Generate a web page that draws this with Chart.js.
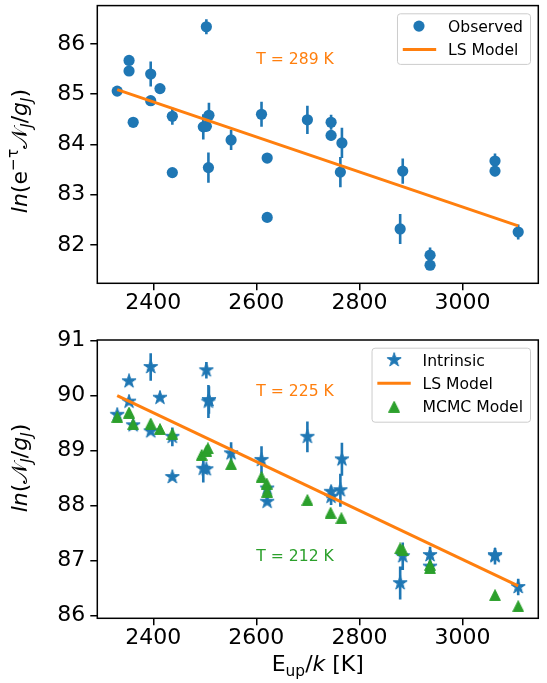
<!DOCTYPE html>
<html><head><meta charset="utf-8">
<script src="https://cdn.jsdelivr.net/npm/chart.js@4"></script>
<style>
html,body{margin:0;padding:0;background:#fff;}
#wrap{position:relative;width:547px;height:683px;overflow:hidden;}
.c{position:absolute;left:0;width:547px;}
</style></head><body>
<div id="wrap">
<div class="c" style="top:0;height:320px"><canvas id="c1" width="547" height="320"></canvas></div>
<div class="c" style="top:320px;height:363px"><canvas id="c2" width="547" height="363"></canvas></div>
</div>
<script>
// ---------- data ----------
const energies  = [2330,2353,2353,2361,2395,2395,2413,2437,2437,2497,2503,2503,2508,2507,2551,2610,2621,2621,2699,2745,2745,2766,2763,2884,2879,2937,2937,3063,3063,3108];
const observed  = [85.06,85.67,85.46,84.44,85.40,84.87,85.11,84.56,83.44,84.35,84.36,86.34,84.58,83.54,84.09,84.60,83.73,82.55,84.49,84.44,84.18,84.03,83.45,83.47,82.32,81.80,81.60,83.67,83.47,82.26];
const intrinsic = [89.65,90.26,89.89,89.46,90.52,89.35,89.96,89.25,88.52,88.67,88.66,90.46,89.92,89.89,88.95,88.83,88.31,88.07,89.25,88.16,88.25,88.84,88.28,87.08,86.59,87.10,86.89,87.08,87.10,86.52];
const errors    = [0.03,0.03,0.05,0.03,0.25,0.05,0.04,0.17,0.04,0.25,0.08,0.15,0.25,0.30,0.20,0.25,0.05,0.04,0.28,0.15,0.10,0.30,0.30,0.25,0.30,0.15,0.05,0.15,0.10,0.15];
const mcmcE     = [2330,2353,2361,2395,2413,2437,2494,2503,2506,2551,2610,2620,2621,2699,2744,2765,2879,2884,2937,2937,3063,3108];
const mcmcVals  = [89.61,89.69,89.48,89.49,89.39,89.30,88.92,88.99,89.04,88.75,88.52,88.40,88.25,88.10,87.87,87.77,87.22,87.19,86.92,86.86,86.37,86.17];
const lsE       = [2330,3108];
const lsTopVals = [85.09,82.38];
const lsBotVals = [90.00,86.54];
const xTicks    = [2400,2600,2800,3000];
const yTicksTop = [82,83,84,85,86];
const yTicksBot = [86,87,88,89,90,91];
const annTop    = [{text:'T = 289 K', x:2600, y:85.6, color:'#ff7f0e'}];
const annBot    = [{text:'T = 225 K', x:2600, y:90.0, color:'#ff7f0e'},{text:'T = 212 K', x:2600, y:87.0, color:'#2ca02c'}];

// ---------- style ----------
const FAM = "'DejaVu Sans', sans-serif";
const BLUE='#1f77b4', ORANGE='#ff7f0e', GREEN='#2ca02c';
const TICK=22, LAB=22, LEG=15.6;

function markerCanvas(kind, color, size){
  const c=document.createElement('canvas'); c.width=size; c.height=size;
  const g=c.getContext('2d'); g.fillStyle=color; g.strokeStyle=color; g.lineWidth=1; g.lineJoin='miter';
  const cx=size/2, cy=size/2; g.beginPath();
  if(kind==='star'){
    const R=size/2-0.6, r=R*0.381966;
    for(let i=0;i<10;i++){const a=-Math.PI/2+i*Math.PI/5, rr=i%2?r:R; const px=cx+rr*Math.cos(a), py=cy+rr*Math.sin(a); i?g.lineTo(px,py):g.moveTo(px,py);}
  } else {
    const h=size/2-0.6; g.moveTo(cx,cy-h); g.lineTo(cx+h,cy+h); g.lineTo(cx-h,cy+h);
  }
  g.closePath(); g.fill(); g.stroke(); return c;
}
const starImg = markerCanvas('star', BLUE, 16);
const triImg  = markerCanvas('tri', GREEN, 12);

function drawRich(ctx, segs, size){
  const parts = segs.map(s=>{
    const sz = (s.sub||s.sup)? size*0.7 : size;
    const font = (s.it?'italic ':'') + sz + 'px ' + FAM;
    ctx.font = font; const w = ctx.measureText(s.t).width;
    const dy = s.sub? size*0.22 : (s.sup? -size*0.42 : 0);
    return {t:s.t, font, w, dy};
  });
  const total = parts.reduce((a,p)=>a+p.w,0);
  let x = -total/2;
  ctx.textAlign='left'; ctx.textBaseline='alphabetic';
  parts.forEach(p=>{ctx.font=p.font; ctx.fillText(p.t, x, p.dy); x+=p.w;});
}

function framePlugin(){
  return {id:'frame', afterDraw(chart){const a=chart.chartArea, ctx=chart.ctx; ctx.save(); ctx.strokeStyle='#000'; ctx.lineWidth=1.5; ctx.strokeRect(a.left, a.top, a.right-a.left, a.bottom-a.top); ctx.restore();}};
}
function errPlugin(xs, ys, es, color){
  return {id:'errbars', beforeDatasetsDraw(chart){
    const ctx=chart.ctx, sx=chart.scales.x, sy=chart.scales.y; ctx.save(); ctx.strokeStyle=color; ctx.lineWidth=2.6; ctx.beginPath();
    xs.forEach((x,i)=>{const px=sx.getPixelForValue(x); ctx.moveTo(px, sy.getPixelForValue(ys[i]-es[i])); ctx.lineTo(px, sy.getPixelForValue(ys[i]+es[i]));});
    ctx.stroke(); ctx.restore();}};
}
function annPlugin(list){
  return {id:'ann', afterDatasetsDraw(chart){
    const ctx=chart.ctx, sx=chart.scales.x, sy=chart.scales.y; ctx.save(); ctx.font=LEG+'px '+FAM; ctx.textAlign='left'; ctx.textBaseline='alphabetic';
    list.forEach(a=>{ctx.fillStyle=a.color; ctx.fillText(a.text, sx.getPixelForValue(a.x), sy.getPixelForValue(a.y));});
    ctx.restore();}};
}
function titlePlugin(ySegs, yCenterPage, canvasTop, xSegs){
  return {id:'titles', afterDraw(chart){
    const ctx=chart.ctx, a=chart.chartArea; ctx.save(); ctx.fillStyle='#000';
    ctx.save(); ctx.translate(a.left-70.3-6, yCenterPage-canvasTop); ctx.rotate(-Math.PI/2); ctx.translate(0, 6); drawRich(ctx, ySegs, LAB); ctx.restore();
    if(xSegs){ ctx.save(); ctx.translate((a.left+a.right)/2, a.bottom+52.7); drawRich(ctx, xSegs, LAB); ctx.restore(); }
    ctx.restore();}};
}
function legendPlugin(kinds, rows){
  return {id:'leg', afterDraw(chart){
    const ctx=chart.ctx, a=chart.chartArea, ds=chart.data.datasets; ctx.save();
    ctx.font=LEG+'px '+FAM;
    const tw=Math.max(...kinds.map(k=>ctx.measureText(ds[k.i].label).width));
    const w=51+tw+7, h=rows.h, right=a.right-8.3, top=a.top+7.7, left=right-w;
    ctx.beginPath(); ctx.roundRect(left+0.5, top+0.5, w, h, 3); ctx.fillStyle='rgba(255,255,255,0.8)'; ctx.fill(); ctx.strokeStyle='#cccccc'; ctx.lineWidth=1; ctx.stroke();
    kinds.forEach((k,j)=>{
      const y=top+rows.r0+j*rows.dr, d=ds[k.i];
      if(k.kind==='line'){ctx.strokeStyle=d.borderColor; ctx.lineWidth=3; ctx.beginPath(); ctx.moveTo(left+5.8,y); ctx.lineTo(left+39.2,y); ctx.stroke();}
      else if(k.kind==='dot'){ctx.fillStyle=d.backgroundColor; ctx.beginPath(); ctx.arc(left+22,y,5.6,0,Math.PI*2); ctx.fill();}
      else {const im=d.pointStyle; ctx.drawImage(im, left+22.6-im.width/2, y-im.height/2);}
      ctx.fillStyle='#000'; ctx.textAlign='left'; ctx.textBaseline='alphabetic'; ctx.fillText(d.label, left+51, y+0.36*LEG);
    });
    ctx.restore();}};
}

function scalesFor(yMin, yMax, yTicks, xH){
  const grid={display:true, drawOnChartArea:false, drawTicks:true, tickLength:7, color:'#000', lineWidth:1.5};
  return {
    x:{type:'linear', min:2291.4, max:3147, afterBuildTicks:s=>{s.ticks=xTicks.map(v=>({value:v}));},
       ticks:{font:{family:FAM,size:TICK}, color:'#000', padding:0, maxRotation:0, autoSkip:false, callback:v=>String(v)},
       grid, border:{display:false}, afterFit:s=>{s.height=xH; s.paddingLeft=0; s.paddingRight=0;}},
    y:{type:'linear', min:yMin, max:yMax, afterBuildTicks:s=>{s.ticks=yTicks.map(v=>({value:v}));},
       ticks:{font:{family:FAM,size:TICK}, color:'#000', padding:5, autoSkip:false, callback:v=>String(v)},
       grid, border:{display:false}, afterFit:s=>{s.width=97.3; s.paddingTop=0; s.paddingBottom=0;}}
  };
}
const baseOpts = {responsive:false, animation:false, events:[], plugins:{legend:{display:false}, tooltip:{enabled:false}}};

// ---------- top chart ----------
new Chart(document.getElementById('c1'), {
  type:'scatter',
  data:{datasets:[
    {label:'Observed', data:energies.map((x,i)=>({x, y:observed[i]})), backgroundColor:BLUE, borderColor:BLUE, pointRadius:5.6, pointBorderWidth:0, order:2},
    {label:'LS Model', data:lsE.map((x,i)=>({x, y:lsTopVals[i]})), showLine:true, borderColor:ORANGE, backgroundColor:ORANGE, borderWidth:3, pointRadius:0, order:1}
  ]},
  options:Object.assign({}, baseOpts, {layout:{padding:{top:5, right:8.7, left:0, bottom:0}}, scales:scalesFor(81.24, 86.76, yTicksTop, 36.7)}),
  plugins:[errPlugin(energies, observed, errors, BLUE), annPlugin(annTop), framePlugin(),
    titlePlugin([{t:'ln',it:true},{t:'(e'},{t:'\u2212\u03c4',sup:true},{t:'\ud835\udca9'},{t:'J',sub:true,it:true},{t:'/'},{t:'g',it:true},{t:'J',sub:true,it:true},{t:')'}], 151, 0, null),
    legendPlugin([{i:0,kind:'dot'},{i:1,kind:'line'}], {h:50.6, r0:12.8, dr:23.5})]
});

// ---------- bottom chart ----------
new Chart(document.getElementById('c2'), {
  type:'scatter',
  data:{datasets:[
    {label:'Intrinsic', data:energies.map((x,i)=>({x, y:intrinsic[i]})), pointStyle:starImg, pointRadius:6, backgroundColor:BLUE, borderColor:BLUE, order:3},
    {label:'LS Model', data:lsE.map((x,i)=>({x, y:lsBotVals[i]})), showLine:true, borderColor:ORANGE, backgroundColor:ORANGE, borderWidth:3, pointRadius:0, order:2},
    {label:'MCMC Model', data:mcmcE.map((x,i)=>({x, y:mcmcVals[i]})), pointStyle:triImg, pointRadius:6, backgroundColor:GREEN, borderColor:GREEN, order:1}
  ]},
  options:Object.assign({}, baseOpts, {layout:{padding:{top:20, right:8.7, left:0, bottom:0}}, scales:scalesFor(85.95, 91.01, yTicksBot, 64.7)}),
  plugins:[errPlugin(energies, intrinsic, errors, BLUE), annPlugin(annBot), framePlugin(),
    titlePlugin([{t:'ln',it:true},{t:'('},{t:'\ud835\udca9'},{t:'J',sub:true,it:true},{t:'/'},{t:'g',it:true},{t:'J',sub:true,it:true},{t:')'}], 468, 320,
      [{t:'E'},{t:'up',sub:true},{t:'/'},{t:'k',it:true},{t:' [K]'}]),
    legendPlugin([{i:0,kind:'img'},{i:1,kind:'line'},{i:2,kind:'img'}], {h:74, r0:12.3, dr:23.35})]
});
</script>
</body></html>
